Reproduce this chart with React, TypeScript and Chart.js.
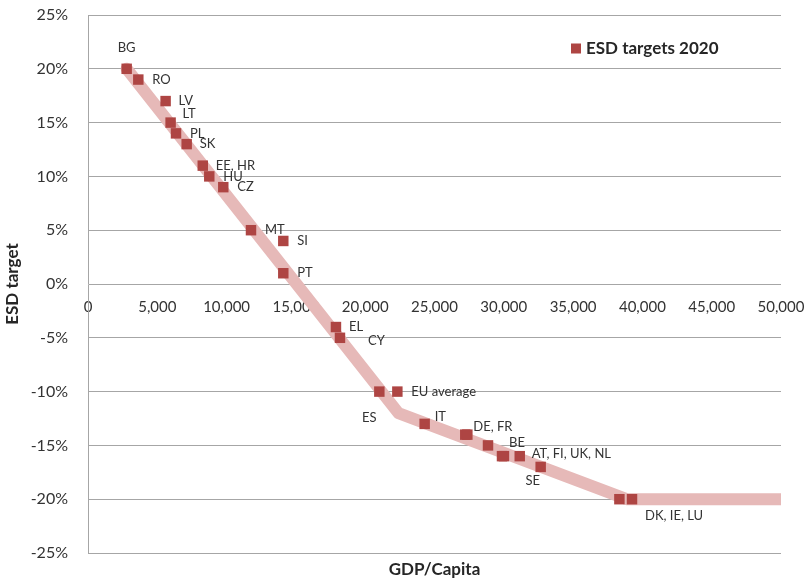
import React, { useEffect, useRef } from "react";
import { Chart, registerables } from "chart.js";

Chart.register(...registerables);

// GDP per capita (x) and ESD target in % (y) per member state
const gdpPerCapita = [
  2790, 3630, 5600, 5960, 6350, 7120, 8280, 8750, 9760, 11760, 14090, 14090,
  17890, 18180, 21020, 22320, 24290, 27220, 27370, 28860, 29870, 30010, 31150,
  32660, 38340, 39250,
];
const esdTarget = [
  20, 19, 17, 15, 14, 13, 11, 10, 9, 5, 4, 1,
  -4, -5, -10, -10, -13, -14, -14, -15, -16, -16, -16,
  -17, -20, -20,
];
const pointLabels = [
  "BG", "RO", "LV", "LT", "PL", "SK", "EE, HR", "HU", "CZ", "MT", "SI", "PT",
  "EL", "CY", "ES", "EU average", "IT", "", "DE, FR", "BE", "", "", "AT, FI, UK, NL",
  "SE", "", "DK, IE, LU",
];

// Trend line (piecewise linear target path)
const trendX = [2790, 22400, 38860, 50000];
const trendY = [20, -12, -20, -20];

const xTicks = { min: 0, max: 50000, step: 5000 };
const yTicks = { min: -25, max: 25, step: 5 };

const seriesName = "ESD targets 2020";
const xTitle = "GDP/Capita";
const yTitle = "ESD target";

// label placement (pixel offsets from the point, alignment)
const labelPlacement: [number, number, CanvasTextAlign][] = [
  [0, -21, "center"], [14, 0, "left"], [13, 0, "left"], [12, -9, "left"],
  [14, 0, "left"], [13, 0, "left"], [13, 0, "left"], [14, 0, "left"],
  [14, 0, "left"], [14, 0, "left"], [14, 0, "left"], [14, 0, "left"],
  [13, 0, "left"], [28, 3, "left"], [-10, 26, "center"], [14, 0, "left"],
  [10, -7, "left"], [0, 0, "left"], [6, -8, "left"], [21, -3, "left"],
  [0, 0, "left"], [0, 0, "left"], [12, -2, "left"], [-8, 14, "center"],
  [0, 0, "left"], [13, 17, "left"],
];

const FONT = "Lato, 'Open Sans', 'DejaVu Sans', sans-serif";
const TEXT = "#333333";
const GRID = "#A6A6A6";
const POINT = "#AE4543";
const TREND = "#E6B9B8";

const overlayPlugin = {
  id: "overlay",
  afterDatasetsDraw(chart: any) {
    const ctx = chart.ctx;
    const area = chart.chartArea;
    ctx.save();
    // point labels
    const meta = chart.getDatasetMeta(0);
    ctx.font = `13px ${FONT}`;
    ctx.fillStyle = TEXT;
    ctx.textBaseline = "middle";
    meta.data.forEach((el: any, i: number) => {
      const t = pointLabels[i];
      if (!t) return;
      const [dx, dy, al] = labelPlacement[i];
      ctx.textAlign = al;
      ctx.fillText(t, el.x + dx, el.y + dy);
    });
    // legend
    const ds = chart.data.datasets[0];
    const lx = area.right - 210;
    const ly = 48.5;
    ctx.fillStyle = ds.backgroundColor;
    ctx.fillRect(lx, ly - 5, 10, 10);
    ctx.fillStyle = "#262626";
    ctx.font = `bold 17px ${FONT}`;
    ctx.textAlign = "left";
    ctx.fillText(ds.label, lx + 15, ly);
    // x axis title
    ctx.font = `bold 17px ${FONT}`;
    ctx.textAlign = "center";
    ctx.fillText(xTitle, (area.left + area.right) / 2, 570);
    ctx.restore();
  },
};

export default function App() {
  const ref = useRef<HTMLCanvasElement | null>(null);
  useEffect(() => {
    if (!ref.current) return;
    const chart = new Chart(ref.current, {
      type: "scatter",
      data: {
        datasets: [
          {
            label: seriesName,
            data: gdpPerCapita.map((x, i) => ({ x, y: esdTarget[i] })),
            backgroundColor: POINT,
            borderColor: POINT,
            borderWidth: 0,
            pointStyle: "rect",
            pointRadius: 7.4,
            order: 0,
          },
          {
            type: "line",
            label: "trend",
            data: trendX.map((x, i) => ({ x, y: trendY[i] })),
            borderColor: TREND,
            borderWidth: 12,
            borderCapStyle: "round",
            borderJoinStyle: "round",
            pointRadius: 0,
            fill: false,
            order: 1,
          } as any,
        ],
      },
      options: {
        animation: false,
        responsive: true,
        maintainAspectRatio: false,
        layout: { padding: { top: 15, right: 29, bottom: 28, left: 0 } },
        plugins: {
          legend: { display: false },
          tooltip: { enabled: false },
        },
        scales: {
          x: {
            type: "linear",
            position: { y: 0 } as any,
            min: xTicks.min,
            max: xTicks.max,
            grid: { display: false, drawTicks: false },
            border: { display: false },
            ticks: {
              stepSize: xTicks.step,
              padding: 14,
              color: TEXT,
              font: { family: FONT, size: 15 },
              maxRotation: 0,
              callback: (v: any) => Number(v).toLocaleString("en-US"),
            },
            afterFit: (s: any) => {
              s.paddingLeft = 0;
              s.paddingRight = 0;
            },
          },
          y: {
            type: "linear",
            position: "left",
            min: yTicks.min,
            max: yTicks.max,
            grid: { color: GRID, lineWidth: 1, drawTicks: false },
            border: { display: true, color: GRID, width: 1 },
            ticks: {
              stepSize: yTicks.step,
              padding: 20,
              color: TEXT,
              font: { family: FONT, size: 16 },
              callback: (v: any) => `${v}%`,
            },
            title: {
              display: true,
              text: yTitle,
              color: "#262626",
              font: { family: FONT, size: 17, weight: "bold" },
              padding: { top: 2, bottom: 0 },
            },
            afterFit: (s: any) => {
              s.width = 88;
              s.paddingTop = 0;
              s.paddingBottom = 0;
            },
          },
        },
      },
      plugins: [overlayPlugin],
    });
    return () => chart.destroy();
  }, []);
  return (
    <div style={{ position: "fixed", left: 0, top: 0, width: 810, height: 581 }}>
      <canvas ref={ref} />
    </div>
  );
}
